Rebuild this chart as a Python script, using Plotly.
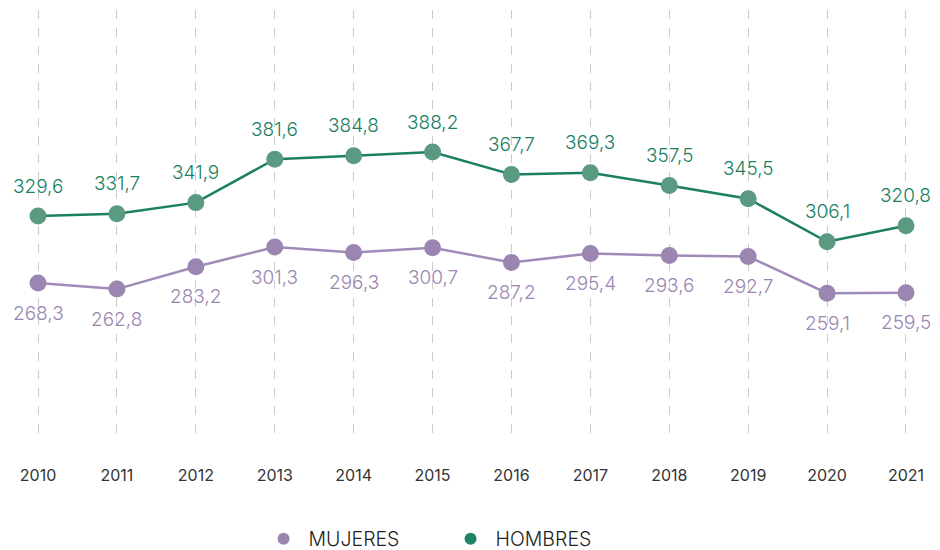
import plotly.graph_objects as go

years = [2010, 2011, 2012, 2013, 2014, 2015, 2016, 2017, 2018, 2019, 2020, 2021]
mujeres = [268.3, 262.8, 283.2, 301.3, 296.3, 300.7, 287.2, 295.4, 293.6, 292.7, 259.1, 259.5]
hombres = [329.6, 331.7, 341.9, 381.6, 384.8, 388.2, 367.7, 369.3, 357.5, 345.5, 306.1, 320.8]
series_names = ["MUJERES", "HOMBRES"]

C_M_LINE = "#a08ab8"
C_M_MARK = "#9b85b1"
C_H_LINE = "#1b7f63"
C_H_MARK = "#5a9a80"
C_H_LEG = "#1f8467"
FONT = "Inter, sans-serif"

def fmt(v):
    return f"{v:.1f}".replace(".", ",")

fig = go.Figure()
fig.add_trace(go.Scatter(
    x=years, y=mujeres, name=series_names[0], mode="lines+markers",
    line=dict(color=C_M_LINE, width=2.5),
    marker=dict(color=C_M_MARK, size=17),
    cliponaxis=False, showlegend=False,
))
fig.add_trace(go.Scatter(
    x=years, y=hombres, name=series_names[1], mode="lines+markers",
    line=dict(color=C_H_LINE, width=2.5),
    marker=dict(color=C_H_MARK, size=17),
    cliponaxis=False, showlegend=False,
))
# legend entries (markers only)
fig.add_trace(go.Scatter(x=[None], y=[None], name=series_names[0], mode="markers",
                         marker=dict(color=C_M_MARK, size=15)))
fig.add_trace(go.Scatter(x=[None], y=[None], name=series_names[1], mode="markers",
                         marker=dict(color=C_H_LEG, size=15)))

ann = []
for x, v in zip(years, hombres):
    ann.append(dict(x=x, y=v, text=fmt(v), showarrow=False, yshift=30,
                    font=dict(family=FONT, size=19, color=C_H_LINE, weight=300)))
for x, v in zip(years, mujeres):
    ann.append(dict(x=x, y=v, text=fmt(v), showarrow=False, yshift=-30,
                    font=dict(family=FONT, size=19, color=C_M_MARK, weight=300)))

fig.update_layout(
    width=940, height=550,
    margin=dict(l=0, r=0, t=10, b=113, autoexpand=False),
    paper_bgcolor="white", plot_bgcolor="white",
    font=dict(family=FONT, color="#333333"),
    annotations=ann,
    showlegend=True,
    legend=dict(orientation="h", x=0.474, xanchor="center", y=-0.239, yanchor="middle",
                font=dict(family=FONT, size=19.5, color="#222222", weight=300),
                itemsizing="constant", itemwidth=40, borderwidth=0,
                entrywidth=132),
    xaxis=dict(
        range=[2009.518, 2021.431], tickmode="array", tickvals=years,
        ticktext=[str(y) for y in years],
        showgrid=True, griddash="dash", gridcolor="#cccccc", gridwidth=1,
        zeroline=False, showline=False, ticks="",
        tickfont=dict(family=FONT, size=16, color="#333333"),
        ticklabelstandoff=27,
    ),
    yaxis=dict(range=[127.5, 518.1], showgrid=False, zeroline=False,
               showticklabels=False, showline=False),
)

fig.write_html("out.html", config={"displayModeBar": False},
               post_script="document.body.style.margin='0';")
